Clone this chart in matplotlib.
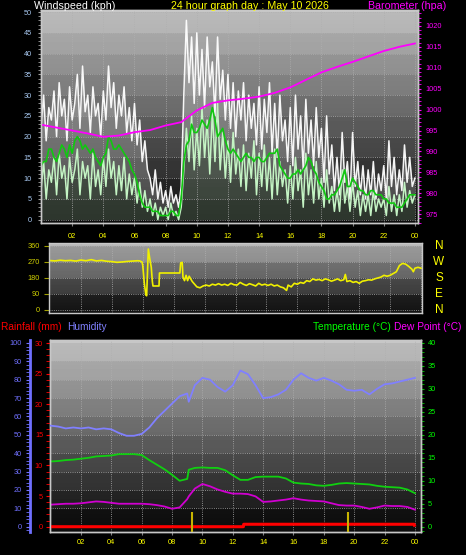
import numpy as np
import matplotlib
matplotlib.use('Agg')
import matplotlib.pyplot as plt
from matplotlib.ticker import MultipleLocator

W, H = 466, 555
plt.rcParams['font.family'] = ['Liberation Sans', 'DejaVu Sans']

title_text = '24 hour graph day : May 10 2026'
hour_ticks = [2, 4, 6, 8, 10, 12, 14, 16, 18, 20, 22, 24]
hour_labels = ['02', '04', '06', '08', '10', '12', '14', '16', '18', '20', '22', '00']

# wind, one value every 10 minutes (kph)
gust_kph = [22, 30, 19, 27, 24, 31,  20, 33, 25, 29, 19, 32,  24, 28, 35, 22, 37, 26,
            30, 21, 32, 25, 28, 20,  31, 24, 37, 27, 33, 22,  30, 25, 32, 21, 27, 19,
            28, 18, 24, 14, 19, 12,  10, 6, 12, 5, 9, 4,      7, 3, 8, 4, 6, 3,
            8, 30, 48, 33, 44, 28,   45, 30, 41, 27, 44, 32,  38, 25, 44, 29, 36, 24,
            35, 22, 33, 20, 31, 24,  33, 19, 30, 22, 28, 18,  32, 17, 29, 21, 33, 16,
            28, 15, 30, 19, 24, 14,  27, 13, 30, 17, 25, 12,  29, 16, 24, 13, 27, 15,
            22, 9, 25, 11, 18, 7,    15, 6, 21, 9, 14, 5,     21, 8, 14, 6, 13, 5,
            12, 6, 14, 5, 11, 7,     13, 5, 19, 8, 15, 6,     12, 7, 18, 9, 15, 8, 10]
speed_kph = [7, 14, 5, 12, 9, 15,    6, 16, 10, 13, 5, 15,    9, 12, 17, 6, 14, 10,
             13, 5, 16, 8, 12, 6,    15, 8, 17, 10, 14, 6,    13, 7, 15, 5, 11, 6,
             10, 4, 9, 3, 7, 2,      5, 1, 4, 0, 3, 1,        3, 0, 4, 1, 2, 0,
             3, 12, 22, 14, 25, 12,  22, 13, 27, 15, 24, 11,  26, 14, 28, 12, 21, 10,
             19, 9, 21, 11, 17, 8,   18, 7, 16, 10, 19, 6,    16, 8, 18, 7, 15, 5,
             17, 6, 14, 8, 12, 4,    13, 5, 15, 7, 12, 3,     16, 6, 12, 4, 14, 5,
             10, 3, 12, 4, 8, 2,     7, 2, 12, 4, 8, 2,       9, 3, 7, 1, 6, 2,
             6, 1, 7, 2, 5, 3,       5, 1, 8, 2, 6, 1,        6, 2, 9, 3, 7, 4, 6]
avg_kph = [13, 14, 14, 17, 17, 15,   14, 16, 18, 17, 15, 18,  16, 19, 20, 19, 17, 18,
           17, 16, 17, 15, 14, 13,   15, 16, 20, 19, 17, 17,  18, 17, 16, 15, 14, 12,
           11, 9, 6, 4, 3, 3,        3, 2, 2, 2, 1, 1,        1, 1, 2, 2, 1, 1,
           5, 14, 18, 19, 23, 21,    21, 22, 24, 23, 22, 24,  27, 24, 20, 21, 22, 19,
           17, 16, 17, 16, 15, 14,   15, 16, 15, 15, 14, 15,  15, 14, 14, 15, 16, 16,
           16, 17, 13, 12, 11, 10,   10, 11, 11, 12, 11, 12,  13, 15, 14, 12, 11, 9,
           8, 7, 5, 5, 6, 6,         7, 8, 10, 12, 8, 8,      10, 9, 8, 7, 7, 6,
           6, 7, 7, 6, 6, 6,         5, 5, 4, 4, 4, 3,        3, 3, 4, 5, 6, 6, 6]
wind_hours = np.arange(len(gust_kph)) / 6

# barometer, hourly (hPa)
baro_hours = list(range(25))
baro_hpa = [996.4, 995.7, 995.0, 994.3, 993.5, 993.8, 994.6, 995.1, 996.2, 997.0,
            999.8, 1001.6, 1002.2, 1002.6, 1003.1, 1004.0, 1005.3, 1007.1, 1008.9,
            1010.2, 1011.4, 1012.7, 1014.0, 1015.0, 1015.8]

# wind direction (degrees)
dir_hours = [0, 0.33, 0.67, 1, 1.33, 1.67, 2, 2.33, 2.67, 3, 3.33, 3.67, 4, 4.33, 4.67,
             5, 5.33, 5.67, 5.8, 5.95, 6.0, 6.1, 6.2, 6.25, 6.3, 6.36, 6.45, 6.55, 6.62,
             6.66, 7.05, 7.08, 8.4, 8.45, 8.55, 8.6, 8.7, 8.8, 8.9, 9.0, 9.1, 9.2, 9.35,
             9.5, 9.7, 9.9, 10.1, 10.3, 10.5, 10.7, 10.9, 11.1, 11.3, 11.5, 11.7, 11.9,
             12.1, 12.3, 12.5, 12.7, 12.9, 13.1, 13.3, 13.5, 13.7, 13.9, 14.1, 14.3,
             14.5, 14.7, 14.9, 15.1, 15.3, 15.4, 15.6, 15.8, 16.0, 16.2, 16.4, 16.6,
             16.8, 17.0, 17.2, 17.4, 17.6, 17.8, 18.0, 18.2, 18.4, 18.6, 18.8, 19.0,
             19.1, 19.2, 19.4, 19.6, 19.8, 20.0, 20.2, 20.4, 20.6, 20.8, 21.0, 21.2,
             21.4, 21.6, 21.8, 22.0, 22.2, 22.4, 22.6, 22.8, 23.0, 23.2, 23.4, 23.5,
             23.6, 23.8, 24.0]
dir_deg = [278, 276, 280, 277, 279, 275, 281, 277, 283, 276, 279, 274, 272, 268, 270,
           273, 275, 277, 276, 270, 250, 150, 85, 80, 200, 343, 290, 240, 160,
           135, 135, 208, 208, 265, 268, 185, 165, 195, 165, 190, 175, 160, 145,
           130, 125, 135, 140, 135, 145, 140, 148, 140, 145, 138, 150, 142,
           140, 155, 145, 138, 148, 142, 135, 150, 140, 145, 138, 145,
           135, 140, 130, 125, 110, 140, 130, 150, 145, 155, 150, 165,
           160, 175, 168, 172, 165, 175, 170, 162, 168, 175, 165, 170,
           200, 160, 165, 155, 160, 150, 162, 165, 170, 168, 175, 180,
           185, 195, 190, 195, 205, 215, 250, 262, 258, 245, 230, 215,
           235, 240, 235]
compass_labels = ['N', 'W', 'S', 'E', 'N']
compass_deg = [360, 270, 180, 90, 0]

# temperature / humidity / dew point
clim_hours = [0, 0.5, 1, 1.5, 2, 2.5, 3, 3.5, 4, 4.5, 5, 5.5, 6, 6.5, 7, 7.5, 8, 8.5, 9,
              9.1, 9.5, 10, 10.5, 11, 11.5, 12, 12.5, 13, 13.5, 14, 14.5, 15, 15.5, 16,
              16.5, 17, 17.5, 18, 18.5, 19, 19.5, 20, 20.5, 21, 21.5, 22, 22.5, 23,
              23.5, 24]
humidity_pct = [55, 54.5, 53.5, 54, 53.5, 54, 53, 53.5, 53, 51, 49.5, 49.5, 50.5, 54, 59,
                63, 67, 71, 72.5, 68, 77, 81, 80, 76, 73.5, 77, 85, 83, 77, 70, 70.5, 72,
                74.5, 80, 83.5, 81, 79.5, 81, 79.5, 77.5, 74.5, 74, 74.5, 72, 75, 77.5,
                78, 79, 80, 81]
temp_c = [14.2, 14.3, 14.5, 14.6, 14.8, 15.0, 15.3, 15.4, 15.5, 15.8, 15.8, 15.8, 15.6,
          14.5, 13.5, 12.5, 11.3, 10.0, 10.4, 12.4, 12.8, 12.9, 12.8, 12.8, 12.3, 11.2,
          10.2, 10.2, 10.8, 10.9, 10.9, 10.9, 10.5, 9.6, 9.4, 9.3, 9.0, 8.9, 9.1, 9.4,
          9.5, 9.4, 9.3, 9.2, 8.9, 8.7, 8.6, 8.5, 8.1, 7.3]
dew_c = [4.8, 4.9, 5.0, 5.0, 5.1, 5.3, 5.5, 5.4, 5.2, 5.0, 5.0, 5.0, 5.0, 4.9, 4.7, 4.4,
         3.9, 4.2, 6.0, 6.6, 8.3, 9.3, 8.8, 8.1, 7.6, 7.2, 7.2, 7.1, 6.6, 5.4, 5.5, 5.7,
         5.9, 6.2, 5.9, 5.7, 5.6, 5.5, 5.1, 4.7, 4.6, 4.6, 4.3, 3.9, 4.2, 4.6, 4.5, 4.5,
         4.3, 3.7]
rain_hours = [0, 12.7, 12.72, 23.95, 24]
rain_mm = [0, 0, 0.4, 0.4, 0]
rain_mark_hours = [9.3, 19.6]
rain_mark_mm = 2.4

fig = plt.figure(figsize=(W / 100, H / 100), dpi=100, facecolor='black')


def px_axes(x0, y0, x1, y1):
    return fig.add_axes([x0 / W, 1 - y1 / H, (x1 - x0) / W, (y1 - y0) / H])


def shade(ax, step, top, lo, hi):
    x0, x1 = ax.get_xlim()
    y0, y1 = ax.get_ylim()
    yy = np.linspace(y1, y0, 600)
    band = np.clip(np.floor(yy / step) * step / top, 0, 1)
    frac = np.clip(yy / top, 0, 1)
    g = lo + (hi - lo) * (0.75 * band + 0.25 * frac)
    img = np.repeat(g[:, None], 2, axis=1)
    ax.imshow(img, extent=[x0, x1, y0, y1], aspect='auto', cmap='gray', vmin=0, vmax=1,
              zorder=0, interpolation='nearest')
    ax.set_xlim(x0, x1)
    ax.set_ylim(y0, y1)


def frame(ax):
    for s in ax.spines.values():
        s.set_color('#c8c8c8')
        s.set_linewidth(1)


# ---- wind / barometer ----
ax1 = px_axes(41, 10, 418, 223)
ax1.set_xlim(0, 24.2)
ax1.set_ylim(-0.8, 50.5)
shade(ax1, 5, 50, 0.05, 0.78)
ax1.fill_between(wind_hours, speed_kph, gust_kph, color='white', alpha=0.22, lw=0)
ax1.plot(wind_hours, gust_kph, color='white', lw=1.1, alpha=0.95)
ax1.fill_between(wind_hours, 0, speed_kph, color='#c4f4c4', alpha=0.18, lw=0)
ax1.plot(wind_hours, speed_kph, color='#c4f4c4', lw=1.1)
ax1.plot(wind_hours, avg_kph, color='#10c810', lw=1.2)
ax1.set_yticks(range(0, 51, 5))
ax1.yaxis.set_minor_locator(MultipleLocator(1))
ax1.tick_params(axis='y', which='both', colors='#a0a0a0', labelcolor='#a8c8f0',
                length=2.5, labelsize=5.3, pad=4)
ax1.set_xticks(hour_ticks, hour_labels)
ax1.tick_params(axis='x', colors='#808080', labelcolor='#ffff00', length=2,
                labelsize=5.3, pad=5)
ax1.grid(True, color='#b0b0b0', ls=':', lw=0.6)
frame(ax1)

ax1b = ax1.twinx()
ax1b.set_ylim(972.9, 1023.8)
ax1b.plot(baro_hours, baro_hpa, color='#ff00ff', lw=1.3)
ax1b.set_yticks(range(975, 1021, 5))
ax1b.yaxis.set_minor_locator(MultipleLocator(1))
ax1b.tick_params(axis='y', which='both', colors='#ff00ff', length=2.5,
                 labelsize=5.3, pad=3)
frame(ax1b)

fig.text(34 / W, 1 - 9 / H, 'Windspeed (kph)', color='white', fontsize=7.7,
         ha='left', va='baseline')
fig.text(250 / W, 1 - 9 / H, title_text, color='#ffff00', fontsize=7.7,
         ha='center', va='baseline')
fig.text(446 / W, 1 - 9 / H, 'Barometer (hpa)', color='#ff00ff', fontsize=7.7,
         ha='right', va='baseline')

# ---- wind direction ----
ax2 = px_axes(48.7, 243.3, 421.7, 312.7)
ax2.set_xlim(-0.084, 24.04)
ax2.set_ylim(-15.2, 375)
shade(ax2, 90, 360, 0.08, 0.72)
ax2.plot(dir_hours, dir_deg, color='#f0f000', lw=1.2)
ax2.set_yticks(compass_deg)
ax2.tick_params(axis='y', colors='#a0a000', labelcolor='#d0d000', length=3.5,
                labelsize=5.3, pad=3)
ax2.set_xticks(hour_ticks)
ax2.tick_params(axis='x', length=0, labelbottom=False)
ax2.grid(True, color='#b0b0b0', ls=':', lw=0.6)
frame(ax2)
for lab, deg in zip(compass_labels, compass_deg):
    ax2.text(1.0464, deg, lab, transform=ax2.get_yaxis_transform(), color='#ffff00',
             fontsize=8.5, ha='center', va='center')

# ---- temperature / humidity / rain ----
fig.text(1 / W, 1 - 330.5 / H, 'Rainfall (mm)', color='#ff0000', fontsize=7.3,
         ha='left', va='baseline')
fig.text(67 / W, 1 - 330.5 / H, 'Humidity', color='#8080ff', fontsize=7.3,
         ha='left', va='baseline')
fig.text(313 / W, 1 - 330.5 / H, 'Temperature (°C)', color='#00ff00', fontsize=7.3,
         ha='left', va='baseline')
fig.text(461 / W, 1 - 330.5 / H, 'Dew Point (°C)', color='#ff00ff', fontsize=7.3,
         ha='right', va='baseline')

ax3 = px_axes(50, 340, 421.3, 531.7)
ax3.set_xlim(-0.04, 24.42)
ax3.set_ylim(-1.09, 40.65)
shade(ax3, 4, 40, 0.05, 0.78)
for y in np.arange(4, 40, 4):
    ax3.axhline(y, color='#b0b0b0', ls=':', lw=0.6, zorder=1)
ax3.plot(clim_hours, temp_c, color='#10d010', lw=1.3)
ax3.plot(clim_hours, dew_c, color='#d000d0', lw=1.3)
ax3.set_xticks(hour_ticks, hour_labels)
ax3.grid(True, axis='x', color='#b0b0b0', ls=':', lw=0.6)
ax3.tick_params(axis='x', colors='#808080', labelcolor='#ffff00', length=2,
                labelsize=5.3, pad=3)
frame(ax3)

ax3r = ax3.twinx()
ax3r.set_ylim(-0.815, 30.49)
ax3r.plot(rain_hours, rain_mm, color='#ff0000', lw=2.2, solid_capstyle='butt')
ax3r.vlines(rain_mark_hours, -0.815, rain_mark_mm, color='#c8b400', lw=1.5)
ax3r.yaxis.tick_left()
ax3r.set_yticks(range(0, 31, 5))
ax3r.yaxis.set_minor_locator(MultipleLocator(1))
ax3r.tick_params(axis='y', which='both', colors='#ff0000', length=3,
                 labelsize=5.3, pad=2)
frame(ax3r)

ax3h = ax3.twinx()
ax3h.set_ylim(-2.7, 101.6)
ax3h.plot(clim_hours, humidity_pct, color='#8080ff', lw=1.3)
ax3h.yaxis.tick_left()
ax3h.spines['left'].set_position(('outward', 14.4))
ax3h.spines['left'].set_color('#7070ff')
ax3h.spines['left'].set_linewidth(2)
for side in ['top', 'right', 'bottom']:
    ax3h.spines[side].set_visible(False)
ax3h.set_yticks(range(0, 101, 10))
ax3h.yaxis.set_minor_locator(MultipleLocator(2))
ax3h.tick_params(axis='y', which='both', colors='#7070ff', length=3,
                 labelsize=5.3, pad=3)

ax3.yaxis.tick_right()
ax3.set_yticks(range(0, 41, 5))
ax3.yaxis.set_minor_locator(MultipleLocator(1))
ax3.tick_params(axis='y', which='both', colors='#00c000', labelcolor='#00ff00',
                length=2.5, labelsize=5.3, pad=2)

fig.savefig('out.png', dpi=100, facecolor='black')
